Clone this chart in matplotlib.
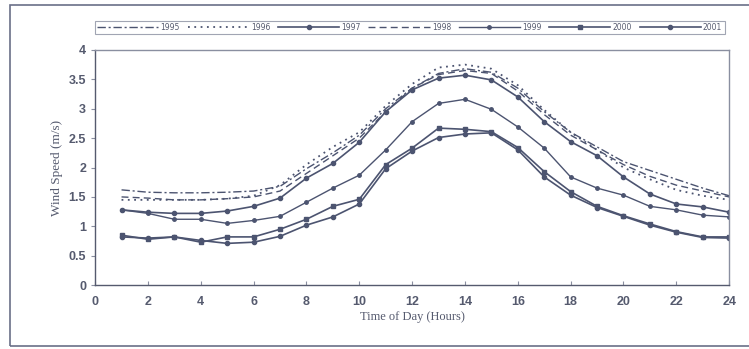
#!/usr/bin/env python3
import matplotlib.pyplot as plt
from matplotlib.patches import Rectangle


hours = list(range(1, 25))

y1995 = [1.62, 1.58, 1.57, 1.57, 1.58, 1.60, 1.68, 1.98, 2.25, 2.55, 3.00, 3.35,
         3.60, 3.68, 3.62, 3.35, 2.95, 2.60, 2.35, 2.10, 1.95, 1.80, 1.65, 1.52]
y1996 = [1.45, 1.45, 1.45, 1.45, 1.47, 1.52, 1.70, 2.05, 2.35, 2.60, 3.05, 3.42,
         3.70, 3.75, 3.68, 3.40, 2.98, 2.60, 2.30, 2.00, 1.80, 1.62, 1.52, 1.45]
y1997 = [1.28, 1.24, 1.22, 1.22, 1.26, 1.34, 1.48, 1.82, 2.07, 2.43, 2.95, 3.32,
         3.52, 3.57, 3.49, 3.20, 2.78, 2.44, 2.20, 1.84, 1.55, 1.38, 1.33, 1.24]
y1998 = [1.50, 1.48, 1.45, 1.45, 1.47, 1.50, 1.60, 1.90, 2.20, 2.50, 2.95, 3.35,
         3.58, 3.65, 3.60, 3.30, 2.90, 2.55, 2.30, 2.05, 1.85, 1.70, 1.60, 1.50]
y1999 = [1.28, 1.22, 1.12, 1.12, 1.05, 1.10, 1.17, 1.41, 1.65, 1.87, 2.30, 2.78,
         3.09, 3.16, 2.99, 2.69, 2.33, 1.84, 1.65, 1.53, 1.34, 1.28, 1.19, 1.16]
y2000 = [0.85, 0.78, 0.82, 0.73, 0.82, 0.82, 0.95, 1.12, 1.34, 1.46, 2.05, 2.33,
         2.67, 2.65, 2.61, 2.34, 1.93, 1.59, 1.34, 1.18, 1.04, 0.91, 0.82, 0.82]
y2001 = [0.82, 0.80, 0.82, 0.76, 0.71, 0.73, 0.83, 1.02, 1.16, 1.38, 1.98, 2.28,
         2.51, 2.57, 2.59, 2.30, 1.84, 1.53, 1.32, 1.17, 1.02, 0.90, 0.81, 0.80]

yticks = [0, 0.5, 1, 1.5, 2, 2.5, 3, 3.5, 4]
xticks = list(range(0, 26, 2))

col = '#4c5470'


def main():
    fig = plt.figure(figsize=(7.49, 3.49), dpi=100)
    ax = fig.add_axes([0.127, 0.183, 0.8465, 0.674])

    ax.plot(hours, y1995, color=col, lw=1.0, ls=(0, (6, 2, 1.5, 2)), label='1995')
    ax.plot(hours, y1996, color=col, lw=1.3, ls=(0, (1, 2.5)), label='1996')
    ax.plot(hours, y1997, color=col, lw=1.2, marker='o', ms=3, label='1997')
    ax.plot(hours, y1998, color=col, lw=1.0, ls=(0, (5, 3)), label='1998')
    ax.plot(hours, y1999, color=col, lw=1.0, marker='o', ms=2.5, label='1999')
    ax.plot(hours, y2000, color=col, lw=1.2, marker='s', ms=3.2, label='2000')
    ax.plot(hours, y2001, color=col, lw=1.2, marker='o', ms=3, label='2001')

    ax.set_xlim(0, 24)
    ax.set_ylim(0, 4)
    ax.set_xticks(xticks)
    ax.set_yticks(yticks)
    ax.set_yticklabels(['0', '0.5', '1', '1.5', '2', '2.5', '3', '3.5', '4'])
    ax.tick_params(axis='x', direction='in', length=3, pad=8, colors='#8a8fa0',
                   labelcolor='#555a6e', labelsize=9)
    ax.tick_params(axis='y', direction='out', length=3, colors='#8a8fa0',
                   labelcolor='#555a6e', labelsize=9)
    for lab in ax.get_xticklabels() + ax.get_yticklabels():
        lab.set_family('Liberation Sans')
        lab.set_fontweight('bold')
    for s in ax.spines.values():
        s.set_color('#8a8fa0')
        s.set_linewidth(1.0)
    ax.spines['left'].set_color('#555a6e')
    ax.spines['bottom'].set_color('#555a6e')

    ax.set_xlabel('Time of Day (Hours)', family='Liberation Serif', fontsize=9,
                  color='#555a6e', labelpad=2)
    ax.set_ylabel('Wind Speed (m/s)', family='Liberation Serif', fontsize=9.5,
                  color='#555a6e', labelpad=4)

    leg = fig.legend(loc='center', bbox_to_anchor=(0.547, 0.921), ncol=7,
                     fontsize=5.5, frameon=True, fancybox=False, handlelength=8,
                     handletextpad=0.3, columnspacing=1.0, borderpad=0.3,
                     edgecolor='#8a8fa0', labelcolor='#555a6e')
    leg.get_frame().set_linewidth(0.8)

    fig.add_artist(Rectangle((0.013, 0.009), 1.0, 0.977, transform=fig.transFigure,
                             fill=False, ec='#6a7088', lw=1.2))

    plt.savefig('out.png', dpi=100)


if __name__ == '__main__':
    main()
